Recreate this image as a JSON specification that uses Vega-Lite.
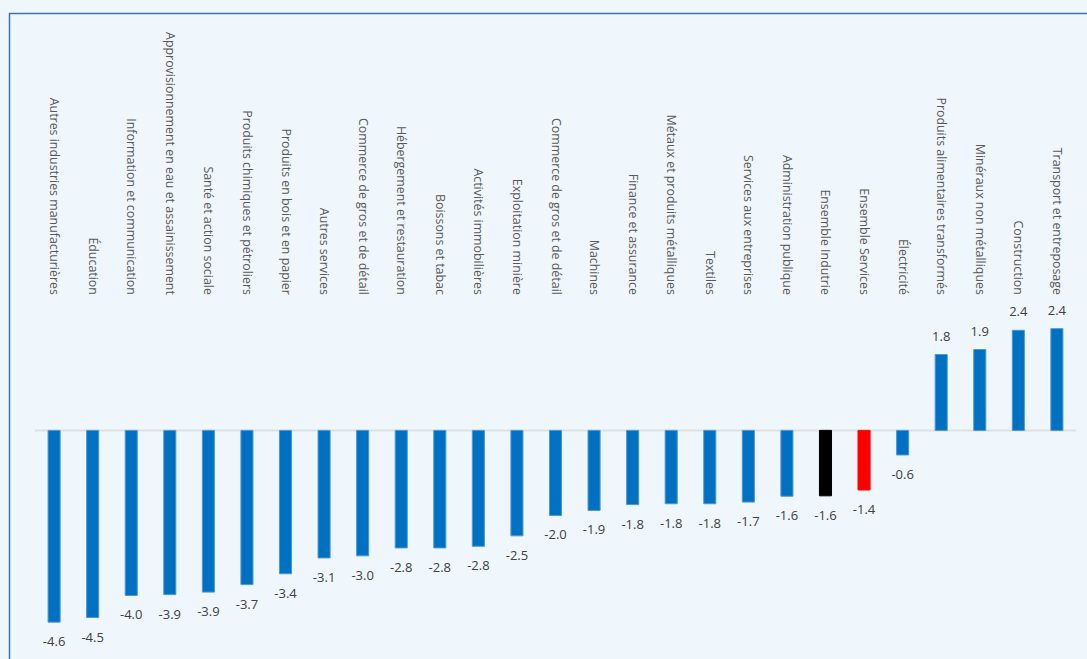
{
  "$schema": "https://vega.github.io/schema/vega-lite/v6.json",
  "autosize": "none",
  "padding": {"left": 9.5, "top": 13.5, "right": 0, "bottom": 0},
  "width": 1092,
  "height": 667,
  "background": "#eff6fc",
  "config": {
    "view": {"stroke": "#3573bd", "strokeWidth": 1.5},
    "locale": {"number": {"decimal": ".", "thousands": ",", "grouping": [3], "currency": ["", ""], "minus": "-"}},
    "font": "Open Sans"
  },
  "data": {
    "values": [
      {"i": 1, "secteur": "Autres industries manufacturières", "v": -4.6, "groupe": "secteur"},
      {"i": 2, "secteur": "Éducation", "v": -4.49, "groupe": "secteur"},
      {"i": 3, "secteur": "Information et communication", "v": -3.96, "groupe": "secteur"},
      {"i": 4, "secteur": "Approvisionnement en eau et assainissement", "v": -3.94, "groupe": "secteur"},
      {"i": 5, "secteur": "Santé et action sociale", "v": -3.88, "groupe": "secteur"},
      {"i": 6, "secteur": "Produits chimiques et pétroliers", "v": -3.7, "groupe": "secteur"},
      {"i": 7, "secteur": "Produits en bois et en papier", "v": -3.44, "groupe": "secteur"},
      {"i": 8, "secteur": "Autres services", "v": -3.06, "groupe": "secteur"},
      {"i": 9, "secteur": "Commerce de gros et de détail", "v": -3.01, "groupe": "secteur"},
      {"i": 10, "secteur": "Hébergement et restauration", "v": -2.82, "groupe": "secteur"},
      {"i": 11, "secteur": "Boissons et tabac", "v": -2.82, "groupe": "secteur"},
      {"i": 12, "secteur": "Activités immobilières", "v": -2.78, "groupe": "secteur"},
      {"i": 13, "secteur": "Exploitation minière", "v": -2.53, "groupe": "secteur"},
      {"i": 14, "secteur": "Commerce de gros et de détail", "v": -2.04, "groupe": "secteur"},
      {"i": 15, "secteur": "Machines", "v": -1.92, "groupe": "secteur"},
      {"i": 16, "secteur": "Finance et assurance", "v": -1.78, "groupe": "secteur"},
      {"i": 17, "secteur": "Métaux et produits métalliques", "v": -1.76, "groupe": "secteur"},
      {"i": 18, "secteur": "Textiles", "v": -1.76, "groupe": "secteur"},
      {"i": 19, "secteur": "Services aux entreprises", "v": -1.72, "groupe": "secteur"},
      {"i": 20, "secteur": "Administration publique", "v": -1.58, "groupe": "secteur"},
      {"i": 21, "secteur": "Ensemble Indutrie", "v": -1.57, "groupe": "industrie"},
      {"i": 22, "secteur": "Ensemble Services", "v": -1.43, "groupe": "services"},
      {"i": 23, "secteur": "Électricité", "v": -0.59, "groupe": "secteur"},
      {"i": 24, "secteur": "Produits alimentaires transformés", "v": 1.82, "groupe": "secteur"},
      {"i": 25, "secteur": "Minéraux non métalliques", "v": 1.94, "groupe": "secteur"},
      {"i": 26, "secteur": "Construction", "v": 2.4, "groupe": "secteur"},
      {"i": 27, "secteur": "Transport et entreposage", "v": 2.44, "groupe": "secteur"}
    ]
  },
  "encoding": {
    "x": {
      "field": "i",
      "type": "ordinal",
      "axis": null,
      "scale": {"paddingInner": 0.687, "paddingOuter": 1.097}
    }
  },
  "layer": [
    {
      "mark": {"type": "tick", "orient": "horizontal", "size": 38.4, "thickness": 2, "color": "#d9d9d9"},
      "encoding": {
        "y": {"datum": 0, "type": "quantitative", "scale": {"domain": [-6, 10], "nice": false, "zero": false}, "axis": null}
      }
    },
    {
      "mark": {"type": "bar", "strokeWidth": 1},
      "encoding": {
        "y": {"field": "v", "type": "quantitative"},
        "y2": {"datum": 0},
        "color": {
          "field": "groupe",
          "type": "nominal",
          "scale": {"domain": ["secteur", "industrie", "services"], "range": ["#0070c0", "#000000", "#ff0000"]},
          "legend": null
        },
        "stroke": {
          "field": "groupe",
          "type": "nominal",
          "scale": {"domain": ["secteur", "industrie", "services"], "range": ["#4b97dc", "#000000", "#ff0000"]},
          "legend": null
        }
      }
    },
    {
      "transform": [{"filter": "datum.v < 0"}],
      "mark": {"type": "text", "fontSize": 13, "color": "#404040", "baseline": "middle", "align": "center", "dy": 20},
      "encoding": {
        "y": {"field": "v", "type": "quantitative"},
        "text": {"field": "v", "type": "quantitative", "format": ".1f"}
      }
    },
    {
      "transform": [{"filter": "datum.v >= 0"}],
      "mark": {"type": "text", "fontSize": 13, "color": "#404040", "baseline": "middle", "align": "center", "dy": -18},
      "encoding": {
        "y": {"field": "v", "type": "quantitative"},
        "text": {"field": "v", "type": "quantitative", "format": ".1f"}
      }
    },
    {
      "mark": {"type": "text", "fontSize": 12.4, "color": "#595959", "angle": 90, "align": "right", "baseline": "middle", "dx": 0},
      "encoding": {
        "y": {"datum": 3.25, "type": "quantitative"},
        "text": {"field": "secteur", "type": "nominal"}
      }
    }
  ]
}
